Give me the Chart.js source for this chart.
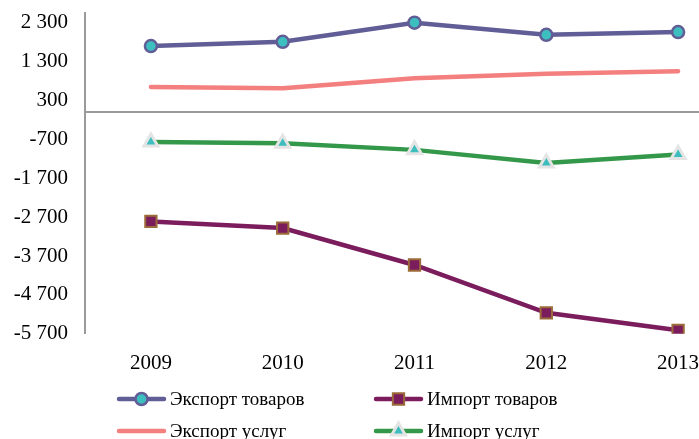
<!DOCTYPE html>
<html>
<head>
<meta charset="utf-8">
<script src="https://cdn.jsdelivr.net/npm/chart.js@4"></script>
<style>
  body { margin: 0; overflow: hidden; background: #fff; }
  #wrap { position: absolute; left: 0; top: 0; width: 755px; height: 439px; }
  .lg { position: absolute; font-family: "Liberation Serif", serif; font-size: 19px; color: #000; display: flex; align-items: center; white-space: nowrap; }
  .lg canvas { margin-right: 3px; }
</style>
</head>
<body>
<div id="wrap"><canvas id="chart" width="755" height="439"></canvas></div>
<div id="legend"></div>
<script>
const years = ['2009', '2010', '2011', '2012', '2013'];
const exportGoods = [1700, 1810, 2300, 1990, 2060];
const importGoods = [-2810, -2980, -3930, -5160, -5610];
const exportServices = [650, 615, 875, 990, 1055];
const importServices = [-770, -800, -970, -1310, -1090];
const yTicks = [-5700, -4700, -3700, -2700, -1700, -700, 300, 1300, 2300];
const yMin = -5700, yMax = 2550;

const fmt = v => String(v).replace(/\B(?=(\d{3})+(?!\d))/g, ' ');
const font = { family: 'Liberation Serif', size: 21 };

const series = [
    { label: 'Экспорт товаров', data: exportGoods, color: '#615d97', point: 'circle', fill: '#3dbfc0', border: '#615d97', radius: 6, bw: 2.5 },
    { label: 'Импорт товаров', data: importGoods, color: '#7b1c5d', point: 'rect', fill: '#7b1c5d', border: '#9c6b3a', radius: 8, bw: 2 },
    { label: 'Экспорт услуг', data: exportServices, color: '#f47f7f', point: false, fill: '#f47f7f', border: '#f47f7f', radius: 0, bw: 0 },
    { label: 'Импорт услуг', data: importServices, color: '#34984a', point: 'triangle', fill: '#3dbdbd', border: '#e4e4e4', radius: 8, bw: 3 }
];

const noPad = scale => {
    scale.paddingTop = 0; scale.paddingBottom = 0;
    scale.paddingLeft = 0; scale.paddingRight = 0;
};

new Chart(document.getElementById('chart'), {
    type: 'line',
    data: {
        labels: years,
        datasets: series.map(s => ({
            label: s.label,
            data: s.data,
            borderColor: s.color,
            borderWidth: 4.5,
            pointStyle: s.point,
            pointRadius: s.radius,
            pointBackgroundColor: s.fill,
            pointBorderColor: s.border,
            pointBorderWidth: s.bw,
            borderCapStyle: 'round',
            tension: 0
        }))
    },
    options: {
        responsive: false,
        animation: false,
        layout: { padding: { top: 13, right: 3, bottom: 46, left: 0 } },
        plugins: { legend: { display: false }, tooltip: { enabled: false } },
        scales: {
            x: {
                offset: true,
                grid: { display: false, drawTicks: false },
                border: { display: false },
                afterFit: noPad,
                ticks: { font: font, color: '#000', padding: 17, maxRotation: 0 }
            },
            x2: {
                type: 'category',
                axis: 'x',
                labels: years,
                offset: true,
                position: { y: 0 },
                grid: { display: false },
                border: { display: true, color: '#9a9a9a', width: 2 },
                ticks: { display: false }
            },
            y: {
                min: yMin,
                max: yMax,
                afterBuildTicks: scale => { scale.ticks = yTicks.map(v => ({ value: v })); },
                afterFit: scale => { scale.width = 85; noPad(scale); },
                grid: { display: false, drawTicks: false },
                border: { display: true, color: '#9a9a9a', width: 2 },
                ticks: { font: font, color: '#000', padding: 17, callback: v => fmt(v) }
            }
        }
    }
});

// legend: line with marker, drawn as small canvases
const legendPos = [[116, 399], [373, 399], [116, 431], [373, 431]];
const legendDiv = document.getElementById('legend');
series.forEach((s, i) => {
    const item = document.createElement('div');
    item.className = 'lg';
    item.style.left = legendPos[i][0] + 'px';
    item.style.top = (legendPos[i][1] - 11) + 'px';
    item.style.height = '22px';
    const c = document.createElement('canvas');
    c.width = 51; c.height = 22;
    const ctx = c.getContext('2d');
    ctx.strokeStyle = s.color; ctx.lineWidth = 4.5; ctx.lineCap = 'round';
    ctx.beginPath(); ctx.moveTo(3, 11); ctx.lineTo(48, 11); ctx.stroke();
    ctx.fillStyle = s.fill; ctx.strokeStyle = s.border; ctx.lineWidth = s.bw;
    if (s.point === 'circle') {
        ctx.beginPath(); ctx.arc(25.5, 11, s.radius, 0, Math.PI * 2); ctx.fill(); ctx.stroke();
    } else if (s.point === 'rect') {
        const h = s.radius * Math.SQRT1_2;
        ctx.beginPath(); ctx.rect(25.5 - h, 11 - h, 2 * h, 2 * h); ctx.fill(); ctx.stroke();
    } else if (s.point === 'triangle') {
        const r = s.radius;
        ctx.beginPath();
        ctx.moveTo(25.5, 11 - r);
        ctx.lineTo(25.5 + r * 0.866, 11 + r / 2);
        ctx.lineTo(25.5 - r * 0.866, 11 + r / 2);
        ctx.closePath(); ctx.fill(); ctx.stroke();
    }
    item.appendChild(c);
    const t = document.createElement('span');
    t.textContent = s.label;
    item.appendChild(t);
    legendDiv.appendChild(item);
});
</script>
</body>
</html>
